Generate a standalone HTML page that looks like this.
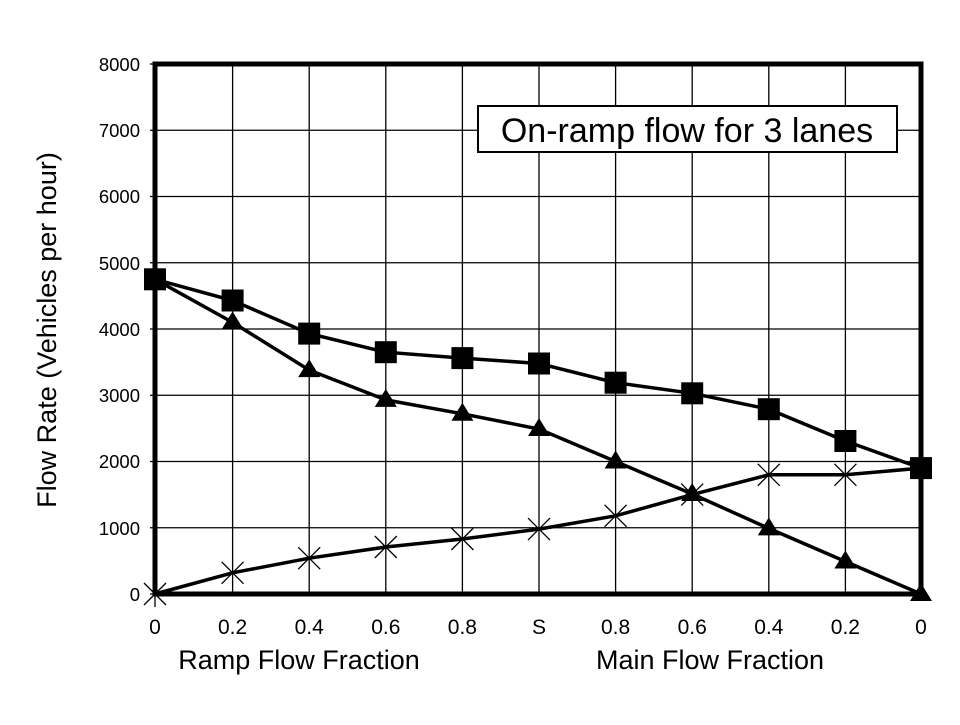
<!DOCTYPE html><html><head><style>body{margin:0;background:#fff}</style></head><body>
<svg width="960" height="720" xmlns="http://www.w3.org/2000/svg" font-family="Liberation Sans, Arial, sans-serif">
<rect width="960" height="720" fill="#fff"/>
<g stroke="#000" stroke-width="1.3">
<line x1="232.6" y1="64" x2="232.6" y2="594"/><line x1="309.2" y1="64" x2="309.2" y2="594"/><line x1="385.8" y1="64" x2="385.8" y2="594"/><line x1="462.4" y1="64" x2="462.4" y2="594"/><line x1="539" y1="64" x2="539" y2="594"/><line x1="615.6" y1="64" x2="615.6" y2="594"/><line x1="692.2" y1="64" x2="692.2" y2="594"/><line x1="768.8" y1="64" x2="768.8" y2="594"/><line x1="845.4" y1="64" x2="845.4" y2="594"/>
<line x1="150" y1="130.25" x2="921" y2="130.25"/><line x1="150" y1="196.5" x2="921" y2="196.5"/><line x1="150" y1="262.75" x2="921" y2="262.75"/><line x1="150" y1="329" x2="921" y2="329"/><line x1="150" y1="395.25" x2="921" y2="395.25"/><line x1="150" y1="461.5" x2="921" y2="461.5"/><line x1="150" y1="527.75" x2="921" y2="527.75"/><line x1="150" y1="64" x2="155" y2="64"/><line x1="150" y1="594" x2="155" y2="594"/>
</g>
<rect x="155" y="64" width="766" height="530" fill="none" stroke="#000" stroke-width="5"/>
<g font-size="18.5" text-anchor="end">
<text x="140" y="71">8000</text><text x="140" y="137">7000</text><text x="140" y="203">6000</text><text x="140" y="270">5000</text><text x="140" y="336">4000</text><text x="140" y="402">3000</text><text x="140" y="468">2000</text><text x="140" y="535">1000</text><text x="140" y="601">0</text>
</g>
<g font-size="21" text-anchor="middle">
<text x="155" y="634">0</text><text x="232.6" y="634">0.2</text><text x="309.2" y="634">0.4</text><text x="385.8" y="634">0.6</text><text x="462.4" y="634">0.8</text><text x="539" y="634">S</text><text x="615.6" y="634">0.8</text><text x="692.2" y="634">0.6</text><text x="768.8" y="634">0.4</text><text x="845.4" y="634">0.2</text><text x="921" y="634">0</text>
</g>
<text x="299" y="669" font-size="27" text-anchor="middle">Ramp Flow Fraction</text>
<text x="710" y="669" font-size="27" text-anchor="middle">Main Flow Fraction</text>
<text transform="translate(56,330) rotate(-90)" font-size="27" text-anchor="middle">Flow Rate (Vehicles per hour)</text>
<rect x="478" y="106" width="419" height="46" fill="#fff" stroke="#000" stroke-width="2"/>
<text x="687" y="142" font-size="34" text-anchor="middle">On-ramp flow for 3 lanes</text>
<g fill="none" stroke="#000" stroke-width="3.5">
<polyline points="155,279.3 232.6,300.5 309.2,333.6 385.8,352.2 462.4,358.1 539,363.5 615.6,382.7 692.2,393.3 768.8,409.2 845.4,441 921,468.1"/>
<polyline points="155,279.3 232.6,322.4 309.2,370.1 385.8,399.9 462.4,413.8 539,429 615.6,461.5 692.2,494 768.8,528.4 845.4,561.5 921,594"/>
<polyline points="155,594 232.6,572.8 309.2,558.2 385.8,547 462.4,539 539,529.1 615.6,515.8 692.2,494.6 768.8,474.8 845.4,474.8 921,468.1"/>
</g>
<g fill="#000">
<rect x="144" y="268.3" width="22" height="22"/><rect x="221.6" y="289.5" width="22" height="22"/><rect x="298.2" y="322.6" width="22" height="22"/><rect x="374.8" y="341.2" width="22" height="22"/><rect x="451.4" y="347.1" width="22" height="22"/><rect x="528" y="352.5" width="22" height="22"/><rect x="604.6" y="371.7" width="22" height="22"/><rect x="681.2" y="382.3" width="22" height="22"/><rect x="757.8" y="398.2" width="22" height="22"/><rect x="834.4" y="430" width="22" height="22"/><rect x="910" y="457.1" width="22" height="22"/>
</g>
<g fill="#000">
<path d="M232.6,311.4 l11,18 h-22z"/><path d="M309.2,359.1 l11,18 h-22z"/><path d="M385.8,388.9 l11,18 h-22z"/><path d="M462.4,402.8 l11,18 h-22z"/><path d="M539,418 l11,18 h-22z"/><path d="M615.6,450.5 l11,18 h-22z"/><path d="M692.2,483 l11,18 h-22z"/><path d="M768.8,517.4 l11,18 h-22z"/><path d="M845.4,550.5 l11,18 h-22z"/><path d="M921,583 l11,18 h-22z"/>
</g>
<g stroke="#000" stroke-width="1.3">
<path d="M144,583 l22,22 M166,583 l-22,22 M155,581 v26"/>
<path d="M221.6,561.8 l22,22 M243.6,561.8 l-22,22"/>
<path d="M298.2,547.2 l22,22 M320.2,547.2 l-22,22"/>
<path d="M374.8,536 l22,22 M396.8,536 l-22,22"/>
<path d="M451.4,528 l22,22 M473.4,528 l-22,22"/>
<path d="M528,518.1 l22,22 M550,518.1 l-22,22"/>
<path d="M604.6,504.8 l22,22 M626.6,504.8 l-22,22"/>
<path d="M681.2,483.6 l22,22 M703.2,483.6 l-22,22"/>
<path d="M757.8,463.8 l22,22 M779.8,463.8 l-22,22"/>
<path d="M834.4,463.8 l22,22 M856.4,463.8 l-22,22"/>
</g>
</svg>
</body></html>
